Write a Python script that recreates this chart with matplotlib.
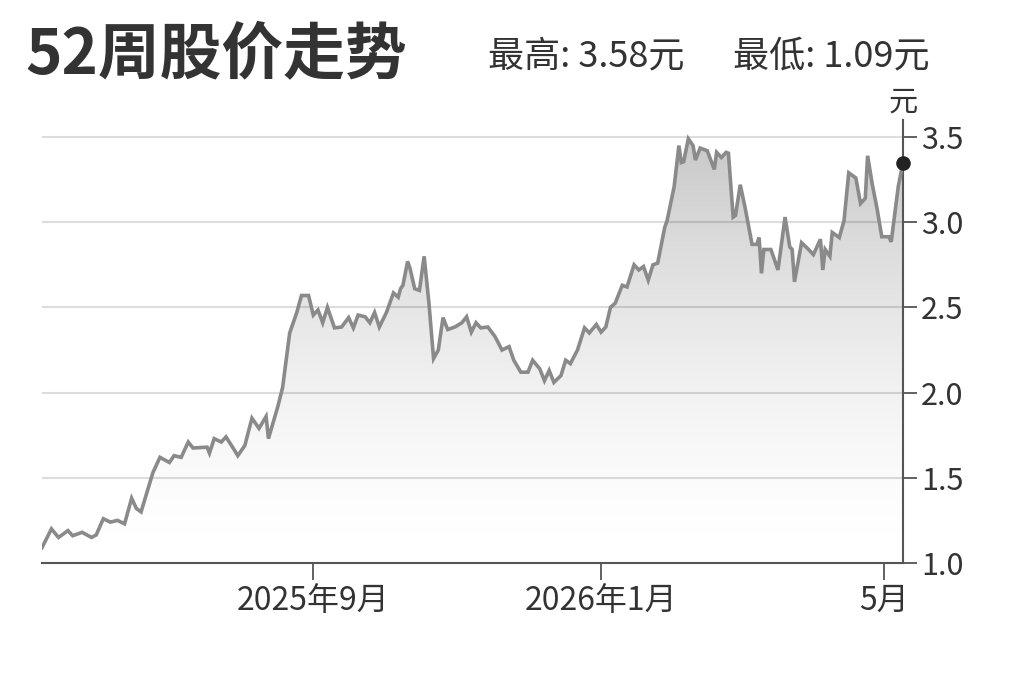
import matplotlib
matplotlib.use("Agg")
import matplotlib.pyplot as plt
import matplotlib.dates as mdates
import numpy as np
import pandas as pd

plt.rcParams['font.family'] = ['Liberation Sans Narrow', 'Noto Sans CJK SC', 'DejaVu Sans']

START = "2025-05-09"
# 距起始日的天数，以及对应收盘价（元）
days = [0, 4, 7, 11, 13, 17, 21, 23, 26, 29, 32, 35, 38, 40, 42, 47, 50, 54, 56, 59,
        62, 64, 70, 71, 73, 76, 78, 81, 83, 86, 89, 92, 95, 96, 100, 102, 105, 108, 110, 113,
        115, 117, 119, 121, 124, 127, 130, 132, 134, 137, 139, 141, 143, 146, 149, 151, 152, 153, 155, 156,
        158, 160, 162, 164, 166, 168, 170, 172, 175, 178, 180, 182, 184, 186, 189, 192, 195, 198, 200, 203,
        206, 208, 211, 213, 215, 217, 220, 222, 224, 227, 230, 232, 235, 237, 239, 241, 243, 246, 248, 251,
        253, 255, 257, 259, 261, 264, 265, 268, 270, 271, 272, 274, 276, 277, 279, 282, 285, 286, 288, 290,
        291, 293, 294, 296, 298, 301, 303, 304, 305, 306, 309, 312, 315, 317, 318, 319, 322, 325, 327, 330,
        331, 332, 334, 335, 338, 340, 342, 345, 347, 349, 350, 352, 354, 356, 359, 360, 363, 365]
price = [1.09, 1.20, 1.15, 1.19, 1.16, 1.18, 1.15, 1.165, 1.26, 1.24, 1.25, 1.23, 1.38, 1.32, 1.30, 1.53, 1.62, 1.59, 1.63, 1.62,
         1.71, 1.675, 1.68, 1.645, 1.73, 1.71, 1.74, 1.675, 1.63, 1.69, 1.85, 1.79, 1.86, 1.73, 1.92, 2.03, 2.35, 2.47, 2.57, 2.57,
         2.455, 2.485, 2.41, 2.50, 2.38, 2.385, 2.44, 2.38, 2.455, 2.445, 2.41, 2.47, 2.385, 2.47, 2.585, 2.56, 2.61, 2.63, 2.77, 2.73,
         2.61, 2.60, 2.80, 2.53, 2.20, 2.25, 2.44, 2.37, 2.385, 2.41, 2.445, 2.355, 2.41, 2.38, 2.385, 2.33, 2.25, 2.27, 2.19, 2.12,
         2.12, 2.19, 2.14, 2.07, 2.13, 2.06, 2.10, 2.19, 2.17, 2.25, 2.38, 2.35, 2.40, 2.355, 2.385, 2.50, 2.525, 2.63, 2.62, 2.75,
         2.72, 2.74, 2.66, 2.75, 2.76, 2.97, 3.01, 3.21, 3.45, 3.35, 3.355, 3.49, 3.45, 3.365, 3.435, 3.42, 3.31, 3.41, 3.38, 3.41,
         3.405, 3.03, 3.04, 3.22, 3.09, 2.87, 2.87, 2.91, 2.70, 2.84, 2.84, 2.72, 3.03, 2.855, 2.84, 2.65, 2.88, 2.84, 2.81, 2.90,
         2.72, 2.84, 2.80, 2.94, 2.91, 3.01, 3.29, 3.26, 3.11, 3.14, 3.39, 3.22, 3.08, 2.915, 2.915, 2.885, 3.21, 3.35]

tick_dates = ["2025-09-01", "2026-01-01", "2026-05-01"]
tick_labels = ["2025年9月", "2026年1月", "5月"]
y_ticks = [1.0, 1.5, 2.0, 2.5, 3.0, 3.5]
title = "52周股价走势"
hi_text = "最高: 3.58元"
lo_text = "最低: 1.09元"

DARK = "#333333"
AXIS = "#555555"

dates = pd.Timestamp(START) + pd.to_timedelta(days, unit="D")
xn = mdates.date2num(dates.to_pydatetime())
y = np.array(price)

W, H = 1023, 682
fig = plt.figure(figsize=(W / 100, H / 100), dpi=100)
ax = fig.add_axes([42 / W, 119 / H, 861 / W, 443 / H])

ymin, ymax = 1.0, 3.6

# 网格
for v in y_ticks[1:]:
    ax.axhline(v, color="#dddddd", lw=1.5, zorder=1)

# 渐变填充
poly = ax.fill_between(xn, y, ymin, color="none", lw=0, zorder=2)
clip = poly.get_paths()[0]
t = np.linspace(0, 1, 256)
rgba = np.zeros((256, 1, 4))
rgba[:, 0, 3] = 0.22 * t ** 1.5
img = ax.imshow(rgba, extent=[xn[0], xn[-1], ymin, 3.5], origin="lower",
                aspect="auto", zorder=2, interpolation="bilinear")
img.set_clip_path(clip, transform=ax.transData)

ax.plot(xn, y, color="#8a8a8a", lw=2.6, zorder=3, solid_joinstyle="miter")
ax.scatter([xn[-1]], [y[-1]], s=90, color="#222222", zorder=5, clip_on=False)

ax.set_xlim(xn[0], xn[-1])
ax.set_ylim(ymin, ymax)

for s in ["top", "left"]:
    ax.spines[s].set_visible(False)
for s in ["right", "bottom"]:
    ax.spines[s].set_color(AXIS)
    ax.spines[s].set_linewidth(1.5)

ax.yaxis.tick_right()
ax.set_yticks(y_ticks)
ax.set_yticklabels([f"{v:.1f}" for v in y_ticks])
ax.tick_params(axis="y", length=10, width=1.3, color=AXIS, pad=3, labelsize=22, labelcolor=DARK)

ax.set_xticks(mdates.date2num(pd.to_datetime(tick_dates).to_pydatetime()))
ax.set_xticklabels(tick_labels)
ax.tick_params(axis="x", length=12, width=1.3, color=AXIS, pad=4, labelsize=23, labelcolor=DARK)

fig.text(25 / W, 1 - 55 / H, title, fontsize=44.5, fontweight="bold", color=DARK,
         va="center", ha="left", family=["Noto Sans CJK SC", "DejaVu Sans"])
fig.text(488 / W, 1 - 56 / H, hi_text, fontsize=26, color=DARK, va="center", ha="left")
fig.text(733 / W, 1 - 56 / H, lo_text, fontsize=26, color=DARK, va="center", ha="left")
fig.text(903 / W, 1 - 103 / H, "元", fontsize=21, color=DARK, va="center", ha="center")

fig.savefig("out.png", dpi=100, facecolor="white")
